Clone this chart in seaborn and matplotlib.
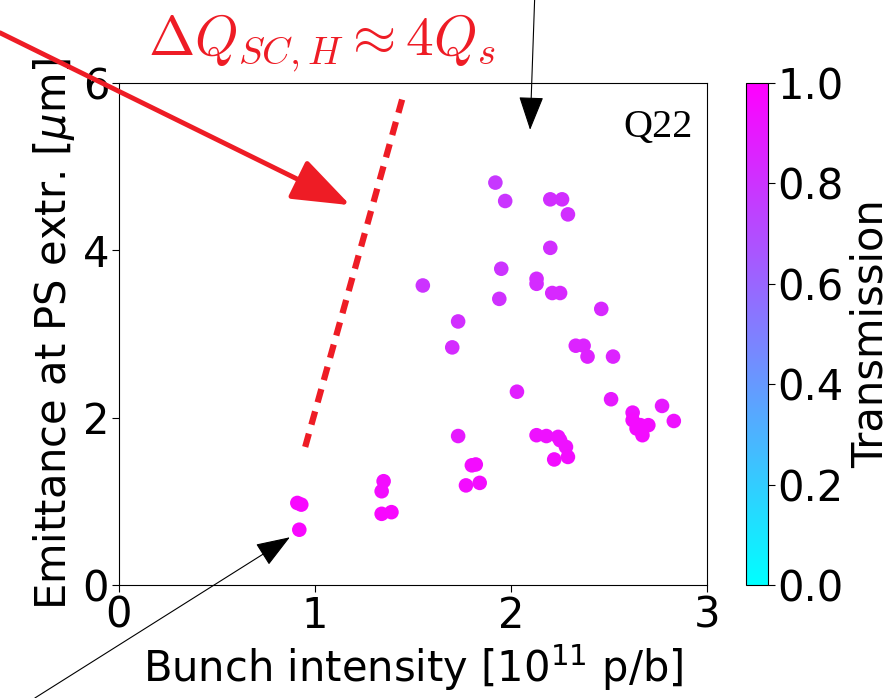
import numpy as np
import pandas as pd
import matplotlib
matplotlib.use("Agg")
import matplotlib.pyplot as plt
import seaborn as sns

intensity = [0.91, 0.93, 0.92, 1.35, 1.34, 1.34, 1.39, 1.55, 1.73, 1.70,
             1.92, 1.97, 1.95, 1.94, 2.20, 2.26, 2.29, 2.20, 2.13, 2.13,
             2.21, 2.25, 2.46, 2.33, 2.37, 2.39, 2.52, 2.03, 2.51, 2.62,
             2.77, 2.83, 2.62, 2.66, 2.70, 2.67, 2.64, 1.73, 2.13, 2.18,
             2.24, 2.25, 2.28, 2.29, 2.22, 1.80, 1.82, 1.77, 1.84]
emittance = [0.98, 0.96, 0.66, 1.24, 1.12, 0.85, 0.87, 3.58, 3.15, 2.84,
             4.81, 4.59, 3.78, 3.42, 4.61, 4.61, 4.43, 4.03, 3.66, 3.60,
             3.49, 3.49, 3.30, 2.86, 2.86, 2.73, 2.73, 2.31, 2.22, 2.06,
             2.14, 1.96, 1.97, 1.91, 1.91, 1.79, 1.87, 1.78, 1.79, 1.78,
             1.77, 1.73, 1.65, 1.53, 1.50, 1.43, 1.44, 1.19, 1.22]
transmission = [0.97, 0.97, 0.97, 0.95, 0.95, 0.97, 0.97, 0.80, 0.82, 0.83,
                0.78, 0.79, 0.80, 0.81, 0.82, 0.82, 0.82, 0.82, 0.83, 0.83,
                0.84, 0.84, 0.84, 0.86, 0.86, 0.87, 0.86, 0.88, 0.90, 0.93,
                0.90, 0.93, 0.95, 0.95, 0.95, 0.95, 0.95, 0.90, 0.93, 0.93,
                0.93, 0.93, 0.93, 0.95, 0.95, 0.95, 0.95, 0.95, 0.95]

line_x = [0.95, 1.45]
line_y = [1.65, 5.85]

df = pd.DataFrame({"I": intensity, "E": emittance, "T": transmission})

plt.rcParams["font.family"] = ["DejaVu Sans"]
FS = 30

fig = plt.figure(figsize=(8.94, 6.98), dpi=100)
ax = fig.add_axes([0.133, 0.162, 0.658, 0.719])
cax = fig.add_axes([0.834, 0.162, 0.025, 0.719])

sns.scatterplot(data=df, x="I", y="E", hue="T", palette="cool", hue_norm=(0, 1),
                s=110, edgecolor="none", legend=False, ax=ax, zorder=3)

ax.set_xlim(0, 3)
ax.set_ylim(0, 6)
ax.set_xticks([0, 1, 2, 3])
ax.set_yticks([0, 2, 4, 6])
ax.set_xlabel("Bunch intensity [$10^{11}$ p/b]", fontsize=FS, labelpad=4)
ax.set_ylabel("Emittance at PS extr. [$\\mu$m]", fontsize=FS, labelpad=4)
ax.tick_params(labelsize=FS, length=5, pad=2)

ax.plot(line_x, line_y, color="#ee1c25", lw=4.5, dashes=(2.2, 1.5), zorder=2)

ax.text(0.975, 0.912, "Q22", transform=ax.transAxes, ha="right", va="center",
        fontsize=29, family="Liberation Serif")

sm = plt.cm.ScalarMappable(cmap="cool", norm=plt.Normalize(0, 1))
cb = fig.colorbar(sm, cax=cax)
cb.set_ticks([0, 0.2, 0.4, 0.6, 0.8, 1.0])
cb.ax.tick_params(labelsize=FS, length=5, pad=2)
cb.set_label("Transmission", fontsize=FS, labelpad=4)
cb.outline.set_linewidth(0.8)

fig.text(0.36, 0.938, r"$\Delta Q_{SC,H} \approx 4Q_s$", color="#ee1c25",
         fontsize=40, ha="center", va="center", math_fontfamily="cm")

ax.annotate("", xy=(1.18, 4.54), xycoords="data",
            xytext=(0.0, 0.953), textcoords="figure fraction",
            arrowprops=dict(arrowstyle="-|>,head_length=1.5,head_width=0.55",
                            color="#ee1c25", lw=3.5, shrinkA=0, shrinkB=0),
            fontsize=24, annotation_clip=False)
ax.annotate("", xy=(2.097, 5.44), xycoords="data",
            xytext=(0.598, 1.0), textcoords="figure fraction",
            arrowprops=dict(arrowstyle="-|>,head_length=0.9,head_width=0.33",
                            color="black", lw=0.8, shrinkA=0, shrinkB=0),
            fontsize=24, annotation_clip=False)
ax.annotate("", xy=(0.872, 0.57), xycoords="data",
            xytext=(0.039, 0.0), textcoords="figure fraction",
            arrowprops=dict(arrowstyle="-|>,head_length=0.9,head_width=0.33",
                            color="black", lw=0.8, shrinkA=0, shrinkB=0),
            fontsize=24, annotation_clip=False)

fig.savefig("out.png", dpi=100)
